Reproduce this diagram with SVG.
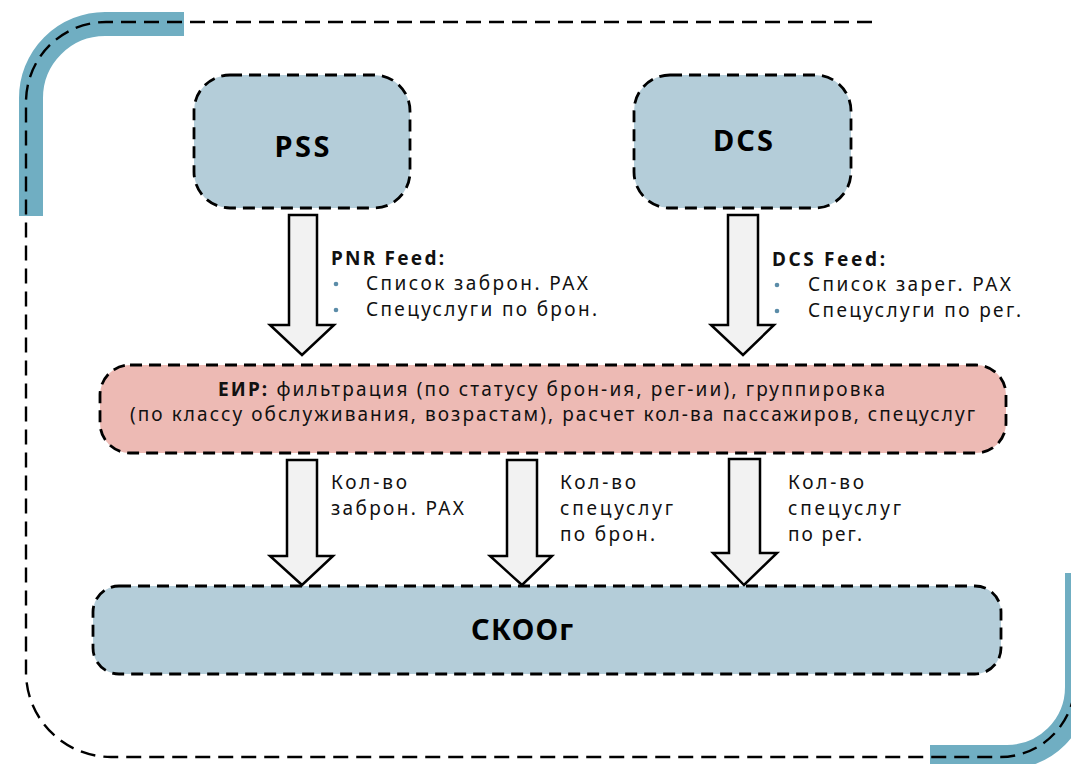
<svg xmlns="http://www.w3.org/2000/svg" width="1071" height="764" viewBox="0 0 1071 764">
<style>
.band{fill:none;stroke:#70aec2;stroke-width:24;stroke-linecap:butt}
.outer{fill:none;stroke:#000;stroke-width:2.4;stroke-dasharray:15 8}
.box{stroke:#000;stroke-width:2.8;stroke-dasharray:12 7}
.blue{fill:#b4cdd9}
.pink{fill:#edbab4}
.arrow{fill:#f2f2f2;stroke:#000;stroke-width:2.5;stroke-linejoin:miter}
.t{font-family:"Noto Sans","Open Sans","DejaVu Sans",sans-serif;font-size:19px;fill:#111}
.b{font-weight:bold}
.title{font-family:"Noto Sans","Open Sans","DejaVu Sans",sans-serif;font-size:29px;font-weight:bold;fill:#000}
.dot{fill:#5b8ca8}
</style>
<g id="frame">
<path class="band" d="M184 24 H105 A74 74 0 0 0 31 98 V216"/>
<path class="band" d="M1077 573 V687 A70 70 0 0 1 1007 757 H930"/>
<path class="outer" d="M872 22 H106 A80 80 0 0 0 26 102 V672 A85 85 0 0 0 111 757 H1000 A75 75 0 0 0 1075 682 V570"/>
</g>
<g id="node-pss">
<rect class="box blue" x="194" y="75" width="216" height="133" rx="36"/>
<text class="title" x="302" y="157" text-anchor="middle" textLength="55">PSS</text>
</g>
<g id="node-dcs">
<rect class="box blue" x="634" y="75" width="217" height="133" rx="36"/>
<text class="title" x="743" y="151" text-anchor="middle" textLength="60">DCS</text>
</g>
<g id="node-eir">
<rect class="box pink" x="100" y="365" width="906" height="88" rx="30"/>
<text class="t" x="218" y="396" textLength="667"><tspan class="b">ЕИР:</tspan> фильтрация (по статусу брон-ия, рег-ии), группировка</text>
<text class="t" x="130" y="421" textLength="845">(по классу обслуживания, возрастам), расчет кол-ва пассажиров, спецуслуг</text>
</g>
<g id="node-skoog">
<rect class="box blue" x="93" y="586" width="908" height="88" rx="26"/>
<text class="title" x="471" y="640" textLength="102">СКООг</text>
</g>
<g id="connectors">
<path class="arrow" d="M289 215 H317 V325 H334 L302 355 L270 325 H289 Z"/>
<path class="arrow" d="M728 215 H758 V325 H774 L743 355 L711 325 H728 Z"/>
<path class="arrow" d="M287 460 H317 V556 H333 L302 585 L270 556 H287 Z"/>
<path class="arrow" d="M507 460 H537 V556 H552 L522 585 L490 556 H507 Z"/>
<path class="arrow" d="M729 459 H760 V553 H777 L744 585 L713 553 H729 Z"/>
</g>
<g id="labels">
<text class="t b" x="331" y="265" textLength="113">PNR Feed:</text>
<circle class="dot" cx="336" cy="284" r="2.3"/>
<circle class="dot" cx="336" cy="310" r="2.3"/>
<text class="t" x="366" y="290" textLength="222">Список заброн. PAX</text>
<text class="t" x="366" y="316" textLength="231">Спецуслуги по брон.</text>
<text class="t b" x="772" y="266" textLength="113">DCS Feed:</text>
<circle class="dot" cx="777" cy="285" r="2.3"/>
<circle class="dot" cx="777" cy="311" r="2.3"/>
<text class="t" x="808" y="291" textLength="203">Список зарег. PAX</text>
<text class="t" x="808" y="317" textLength="213">Спецуслуги по рег.</text>
<text class="t" x="331" y="489" textLength="76">Кол-во</text>
<text class="t" x="331" y="515" textLength="133">заброн. PAX</text>
<text class="t" x="560" y="489" textLength="76">Кол-во</text>
<text class="t" x="560" y="515" textLength="113">спецуслуг</text>
<text class="t" x="560" y="541" textLength="95">по брон.</text>
<text class="t" x="788" y="489" textLength="76">Кол-во</text>
<text class="t" x="788" y="515" textLength="113">спецуслуг</text>
<text class="t" x="788" y="541" textLength="74">по рег.</text>
</g>
</svg>
